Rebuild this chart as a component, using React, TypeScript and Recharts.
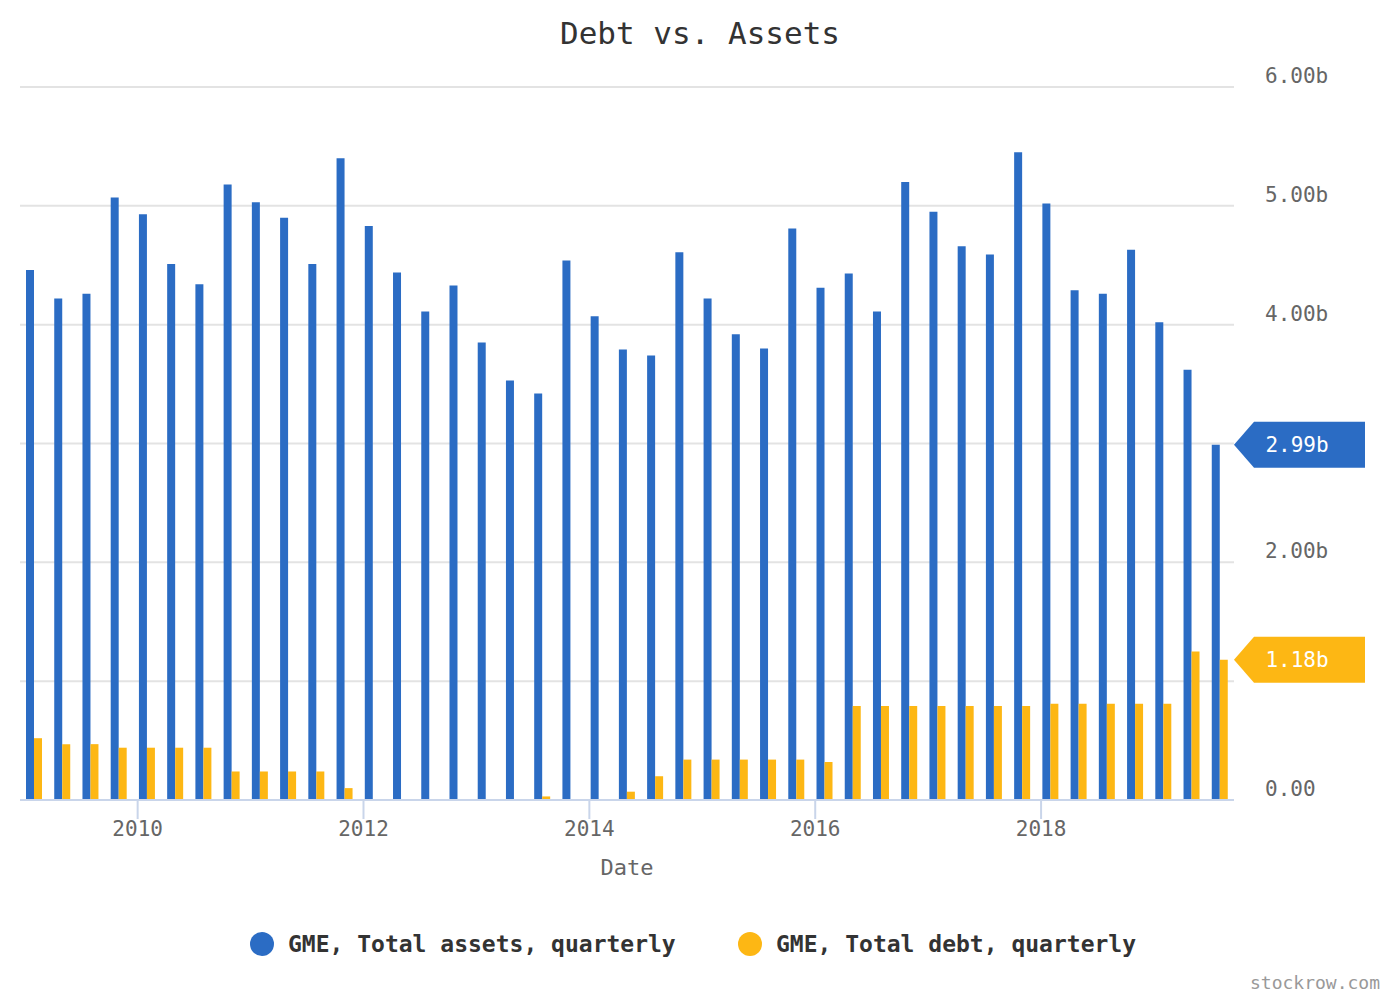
import React from "react";
import { Bar, BarChart, CartesianGrid, ReferenceLine, XAxis, YAxis } from "recharts";

const quarters = [
  "Jan 2009", "Apr 2009", "Jul 2009", "Oct 2009",
  "Jan 2010", "Apr 2010", "Jul 2010", "Oct 2010",
  "Jan 2011", "Apr 2011", "Jul 2011", "Oct 2011",
  "Jan 2012", "Apr 2012", "Jul 2012", "Oct 2012",
  "Jan 2013", "Apr 2013", "Jul 2013", "Oct 2013",
  "Jan 2014", "Apr 2014", "Jul 2014", "Oct 2014",
  "Jan 2015", "Apr 2015", "Jul 2015", "Oct 2015",
  "Jan 2016", "Apr 2016", "Jul 2016", "Oct 2016",
  "Jan 2017", "Apr 2017", "Jul 2017", "Oct 2017",
  "Jan 2018", "Apr 2018", "Jul 2018", "Oct 2018",
  "Jan 2019", "Apr 2019", "Jul 2019",
];

// billions
const totalAssets = [
  4.46, 4.22, 4.26, 5.07, 4.93, 4.51, 4.34, 5.18, 5.03, 4.9, 4.51,
  5.4, 4.83, 4.44, 4.11, 4.33, 3.85, 3.53, 3.42, 4.54, 4.07, 3.79,
  3.74, 4.61, 4.22, 3.92, 3.8, 4.81, 4.31, 4.43, 4.11, 5.2, 4.95,
  4.66, 4.59, 5.45, 5.02, 4.29, 4.26, 4.63, 4.02, 3.62, 2.99,
];

const totalDebt = [
  0.52, 0.47, 0.47, 0.44, 0.44, 0.44, 0.44, 0.24, 0.24, 0.24, 0.24,
  0.1, 0, 0, 0, 0, 0, 0, 0.03, 0, 0, 0.07,
  0.2, 0.34, 0.34, 0.34, 0.34, 0.34, 0.32, 0.79, 0.79, 0.79, 0.79,
  0.79, 0.79, 0.79, 0.81, 0.81, 0.81, 0.81, 0.81, 1.25, 1.18,
];

const yTicks = [0, 1, 2, 3, 4, 5, 6];
// the 1.00b and 3.00b labels sit under the last-value tags
const hiddenYLabels = [1, 3];
const yearLabels = [2010, 2012, 2014, 2016, 2018];

const BLUE = "#2b6cc4";
const YELLOW = "#fdb714";
const AXIS = "#c9d5ea";
const FONT = "'DejaVu Sans Mono', monospace";

const data = quarters.map((q, i) => ({
  q,
  idx: i,
  assets: totalAssets[i],
  debt: totalDebt[i],
}));

// fiscal quarters end Jan/Apr/Jul/Oct; Jan 1 sits a third of a quarter before the Jan bar
const yearPos = yearLabels.map((y) => quarters.indexOf(`Jan ${y}`) - 1 / 3);

function YTick({ x, y, payload }: any) {
  const v = payload.value as number;
  if (hiddenYLabels.includes(v)) return <g />;
  return (
    <text x={x} y={y - 11} textAnchor="start" dominantBaseline="central" fill="#666" fontSize={21} fontFamily={FONT}>
      {v === 0 ? "0.00" : `${v.toFixed(2)}b`}
    </text>
  );
}

function Tag({ viewBox, value, color }: any) {
  const X = viewBox.x + viewBox.width;
  const y = viewBox.y;
  const pts = `${X},${y} ${X + 20},${y - 23} ${X + 131},${y - 23} ${X + 131},${y + 23} ${X + 20},${y + 23}`;
  return (
    <g>
      <polygon points={pts} fill={color} />
      <text x={X + 63} y={y} textAnchor="middle" dominantBaseline="central" fill="#fff" fontSize={21} fontFamily={FONT}>
        {value}
      </text>
    </g>
  );
}

function LegendItem({ x, color, label }: { x: number; color: string; label: string }) {
  return (
    <div style={{ position: "absolute", left: x, top: 930, display: "flex", alignItems: "center", gap: 14 }}>
      <span style={{ width: 24, height: 24, borderRadius: 12, background: color, display: "inline-block" }} />
      <span style={{ fontSize: 23, fontWeight: "bold", color: "#333", lineHeight: "28px" }}>{label}</span>
    </div>
  );
}

export default function App() {
  return (
    <div style={{ position: "absolute", left: 0, top: 0, width: 1400, height: 1000, background: "#fff", fontFamily: FONT }}>
      <div style={{ position: "absolute", left: 0, width: 1400, top: 14, textAlign: "center", fontSize: 31, color: "#333", lineHeight: "38px" }}>
        Debt vs. Assets
      </div>
      <BarChart
        width={1400}
        height={1000}
        data={data}
        margin={{ top: 87, right: 0, left: 20, bottom: 120 }}
        barGap={0}
        barSize={8}
      >
        <CartesianGrid xAxisId="cat" vertical={false} stroke="#e3e3e3" strokeWidth={2} />
        <XAxis xAxisId="cat" dataKey="q" hide height={0} />
        <XAxis
          xAxisId="year"
          type="number"
          dataKey="idx"
          domain={[-0.5, quarters.length - 0.5]}
          allowDataOverflow
          ticks={yearPos}
          tickFormatter={(v: number) => String(yearLabels[yearPos.indexOf(v)])}
          height={80}
          axisLine={{ stroke: AXIS, strokeWidth: 2 }}
          tickLine={{ stroke: AXIS, strokeWidth: 2 }}
          tickSize={19}
          tickMargin={2}
          tick={{ fill: "#666", fontSize: 21, fontFamily: FONT }}
          label={{ value: "Date", position: "insideBottom", offset: 5, fill: "#666", fontSize: 22, fontFamily: FONT }}
        />
        <YAxis
          orientation="right"
          domain={[0, 6]}
          ticks={yTicks}
          width={166}
          axisLine={false}
          tickLine={false}
          tickSize={0}
          tickMargin={31}
          tick={<YTick />}
        />
        <Bar xAxisId="cat" dataKey="assets" fill={BLUE} isAnimationActive={false} />
        <Bar xAxisId="cat" dataKey="debt" fill={YELLOW} isAnimationActive={false} />
        <ReferenceLine
          xAxisId="cat"
          y={totalAssets[totalAssets.length - 1]}
          stroke="none"
          label={(p: any) => <Tag viewBox={p.viewBox} value="2.99b" color={BLUE} />}
        />
        <ReferenceLine
          xAxisId="cat"
          y={totalDebt[totalDebt.length - 1]}
          stroke="none"
          label={(p: any) => <Tag viewBox={p.viewBox} value="1.18b" color={YELLOW} />}
        />
      </BarChart>
      <LegendItem x={250} color={BLUE} label="GME, Total assets, quarterly" />
      <LegendItem x={738} color={YELLOW} label="GME, Total debt, quarterly" />
      <div style={{ position: "absolute", right: 20, top: 972, fontSize: 18, color: "#999" }}>stockrow.com</div>
    </div>
  );
}
